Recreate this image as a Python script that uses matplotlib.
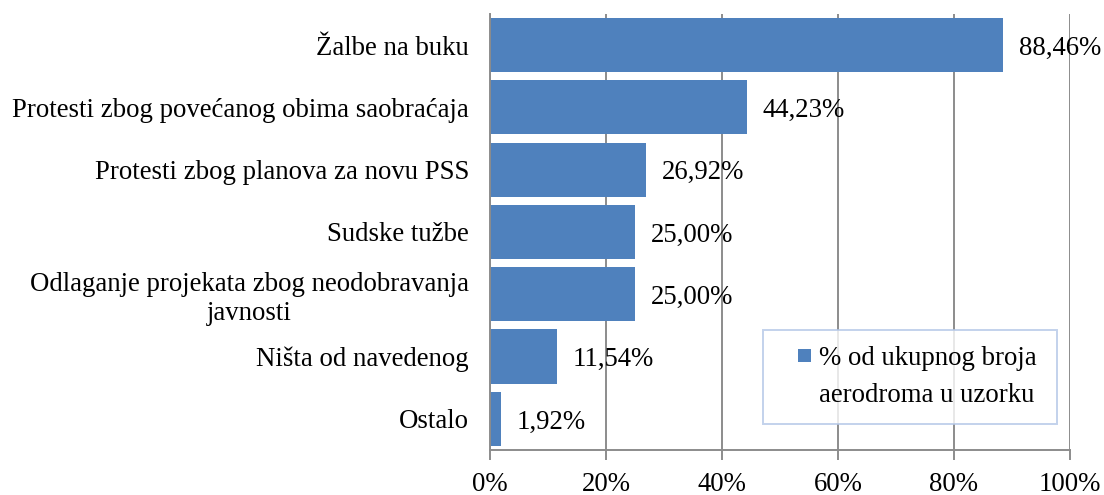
import matplotlib.pyplot as plt
from matplotlib.patches import Patch, Rectangle
from matplotlib.legend_handler import HandlerPatch
from matplotlib.ticker import FuncFormatter

categories = [
    "Žalbe na buku",
    "Protesti zbog povećanog obima saobraćaja",
    "Protesti zbog planova za novu PSS",
    "Sudske tužbe",
    "Odlaganje projekata zbog neodobravanja\njavnosti",
    "Ništa od navedenog",
    "Ostalo",
]
values = [88.46, 44.23, 26.92, 25.00, 25.00, 11.54, 1.92]
series_label = "% od ukupnog broja\naerodroma u uzorku"
xticks = [0, 20, 40, 60, 80, 100]

plt.rcParams['font.family'] = ['Liberation Serif', 'DejaVu Serif']
bar_color = '#4F81BD'
grid_color = '#8C8C8C'
fs = 19.3

fig, ax = plt.subplots(figsize=(11.04, 4.95), dpi=100)
fig.subplots_adjust(left=0.4438, right=0.9692, top=0.972, bottom=0.091)

y = range(len(categories))
ax.barh(y, values, height=0.87, color=bar_color, zorder=3)

for yi, v in zip(y, values):
    ax.text(v + 2.7, yi + 0.05, f"{v:.2f}%".replace('.', ','),
            ha='left', va='center', fontsize=fs, zorder=4)

ax.set_xlim(0, 100)
ax.set_ylim(len(categories) - 0.5, -0.5)
ax.set_xticks(xticks)
ax.xaxis.set_major_formatter(FuncFormatter(lambda v, p: f"{v:.0f}%"))
ax.set_yticks(list(y))
ax.set_yticklabels(categories, fontsize=fs, multialignment='center', linespacing=1.2)
ax.tick_params(axis='y', length=0, pad=15)
ax.tick_params(axis='x', length=7, width=1.4, color=grid_color,
               labelsize=fs, pad=9, direction='out')

ax.grid(True, axis='x', color=grid_color, linewidth=1.4, zorder=0)
for s in ['top', 'right']:
    ax.spines[s].set_visible(False)
for s in ['left', 'bottom']:
    ax.spines[s].set_color(grid_color)
    ax.spines[s].set_linewidth(1.4)
    ax.spines[s].set_zorder(5)


# small square sitting at the right end of the handle box
def square_right(legend, orig_handle, xdescent, ydescent, width, height, fontsize):
    s = 0.49 * fontsize
    return Rectangle((-xdescent + width - s, -ydescent + (height - s) / 2), s, s)


# legend: first line gets the marker, second line sits under it
lines = series_label.split('\n')
handles = [Patch(facecolor=bar_color, edgecolor='none'),
           Patch(facecolor='none', edgecolor='none')]
leg = ax.legend(handles, lines, loc='center left',
                bbox_to_anchor=(0.471, 0.062, 0.507, 0.211), mode='expand',
                fontsize=fs, frameon=True, fancybox=False,
                handler_map={Patch: HandlerPatch(patch_func=square_right)},
                handlelength=1.2, handleheight=0.55, handletextpad=0.27,
                labelspacing=0.45, borderpad=0.6, borderaxespad=0)
leg.get_frame().set_edgecolor('#B4C7E7')
leg.get_frame().set_linewidth(1.4)
leg.set_zorder(6)

fig.savefig('out.png', dpi=100, facecolor='white')
